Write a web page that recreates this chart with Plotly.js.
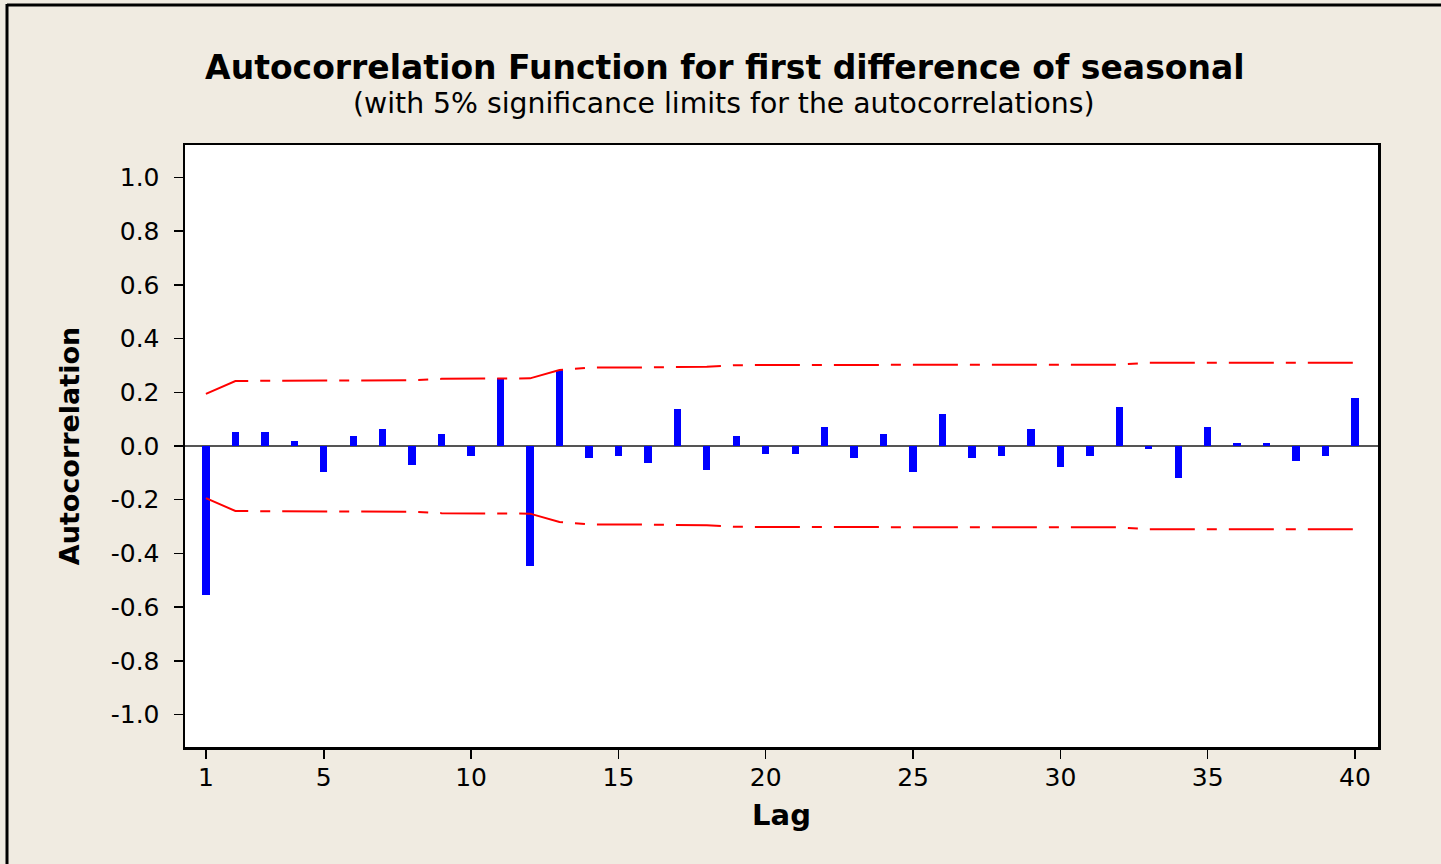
<!DOCTYPE html>
<html>
<head>
<meta charset="utf-8">
<script src="https://cdn.plot.ly/plotly-3.0.1.min.js"></script>
<style>
  html, body { margin: 0; padding: 0; background: rgb(240,235,225); }
  #chart { width: 1441px; height: 864px; }
</style>
</head>
<body>
<div id="chart"></div>
<script>
// Lags
const lags = [1,2,3,4,5,6,7,8,9,10,11,12,13,14,15,16,17,18,19,20,
              21,22,23,24,25,26,27,28,29,30,31,32,33,34,35,36,37,38,39,40];
// Autocorrelation values
const acf = [-0.555, 0.052, 0.052, 0.020, -0.097, 0.036, 0.062, -0.070, 0.043, -0.038,
             0.252, -0.448, 0.283, -0.046, -0.038, -0.063, 0.137, -0.088, 0.036, -0.030,
             -0.030, 0.070, -0.046, 0.043, -0.097, 0.120, -0.046, -0.038, 0.062, -0.079,
             -0.038, 0.145, -0.012, -0.120, 0.070, 0.011, 0.011, -0.055, -0.038, 0.179];
// Upper 5% significance limit at each lag (lower limit is its negative)
const upperLimit = [0.194, 0.242, 0.243, 0.243, 0.243, 0.244, 0.244, 0.245, 0.250, 0.250,
                    0.251, 0.252, 0.283, 0.292, 0.292, 0.293, 0.293, 0.295, 0.301, 0.302,
                    0.302, 0.302, 0.302, 0.302, 0.302, 0.303, 0.303, 0.303, 0.303, 0.303,
                    0.303, 0.303, 0.310, 0.310, 0.310, 0.310, 0.310, 0.310, 0.310, 0.310];
const lowerLimit = upperLimit.map(v => -v);
// Axis ticks
const xTicks = [1, 5, 10, 15, 20, 25, 30, 35, 40];
const yTicks = [-1.0, -0.8, -0.6, -0.4, -0.2, 0.0, 0.2, 0.4, 0.6, 0.8, 1.0];
const yTickText = ['-1.0','-0.8','-0.6','-0.4','-0.2','0.0','0.2','0.4','0.6','0.8','1.0'];

const FONT = 'Verdana, "DejaVu Sans", sans-serif';
const BOLD = 'Tahoma, "DejaVu Sans", sans-serif';
const dashPattern = '45px,12px,10px,12px';

const traces = [
  {
    type: 'bar', x: lags, y: acf, width: 0.25,
    marker: {color: '#0000FF', line: {width: 0}},
    hoverinfo: 'x+y', showlegend: false
  },
  {
    type: 'scatter', mode: 'lines', x: lags, y: upperLimit,
    line: {color: '#FF0000', width: 2, dash: dashPattern},
    hoverinfo: 'skip', showlegend: false
  },
  {
    type: 'scatter', mode: 'lines', x: lags, y: lowerLimit,
    line: {color: '#FF0000', width: 2, dash: dashPattern},
    hoverinfo: 'skip', showlegend: false
  }
];

const layout = {
  width: 1441, height: 864,
  margin: {l: 185, r: 63, t: 145, b: 117},
  paper_bgcolor: 'rgb(240,235,225)',
  plot_bgcolor: '#FFFFFF',
  bargap: 0,
  font: {family: FONT, color: '#000'},
  title: {
    text: '<b>Autocorrelation Function for first difference of seasonal</b>',
    font: {family: BOLD, size: 33, color: '#000'},
    xref: 'container', x: 0.503, xanchor: 'center',
    yref: 'container', y: 1 - 67/864, yanchor: 'middle'
  },
  annotations: [{
    text: '(with 5% significance limits for the autocorrelations)',
    xref: 'paper', yref: 'paper',
    x: (724 - 185) / 1193, y: (747 - 104) / 602,
    xanchor: 'center', yanchor: 'middle', showarrow: false,
    font: {family: FONT, size: 28.3, color: '#000'}
  }],
  xaxis: {
    range: [0.29, 40.78],
    tickmode: 'array', tickvals: xTicks, ticktext: xTicks.map(String),
    ticks: 'outside', ticklen: 9, tickwidth: 1.5, tickcolor: '#000',
    ticklabelstandoff: -3,
    tickfont: {family: FONT, size: 25, color: '#000'},
    showline: true, linecolor: '#000', linewidth: 2.5, mirror: true,
    showgrid: false, zeroline: false,
    title: {text: '<b>Lag</b>', font: {family: BOLD, size: 29, color: '#000'}, standoff: 14}
  },
  yaxis: {
    range: [-1.121, 1.121],
    tickmode: 'array', tickvals: yTicks, ticktext: yTickText,
    ticks: 'outside', ticklen: 9, tickwidth: 1.5, tickcolor: '#000',
    ticklabelstandoff: 9,
    tickfont: {family: FONT, size: 25, color: '#000'},
    showline: true, linecolor: '#000', linewidth: 2.5, mirror: true,
    showgrid: false,
    zeroline: true, zerolinecolor: '#555555', zerolinewidth: 2,
    title: {text: '<b>Autocorrelation</b>', font: {family: BOLD, size: 27, color: '#000'}, standoff: 24}
  },
  shapes: [
    {type: 'line', xref: 'paper', yref: 'paper',
     x0: (7 - 185) / 1193, x1: (7 - 185) / 1193, y0: (747 - 870) / 602, y1: (747 - 4) / 602,
     line: {color: '#000', width: 3}, layer: 'above'},
    {type: 'line', xref: 'paper', yref: 'paper',
     x0: (7 - 185) / 1193, x1: (1450 - 185) / 1193, y0: (747 - 5) / 602, y1: (747 - 5) / 602,
     line: {color: '#000', width: 3}, layer: 'above'}
  ]
};

Plotly.newPlot('chart', traces, layout, {displayModeBar: false, staticPlot: true});
</script>
</body>
</html>
